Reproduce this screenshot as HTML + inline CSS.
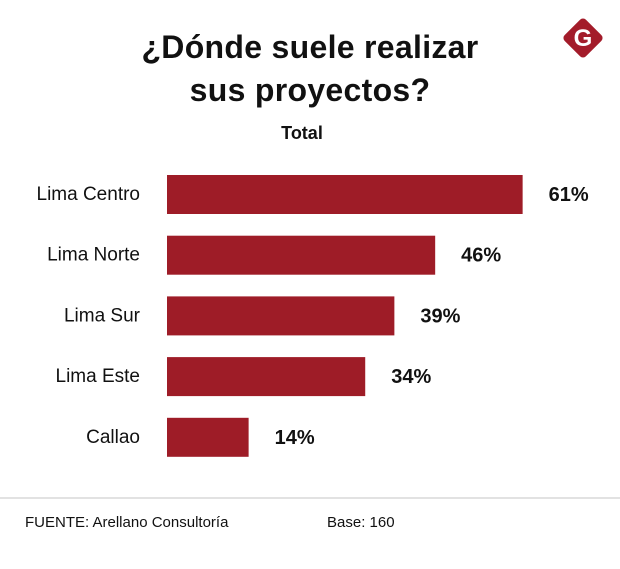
<!DOCTYPE html>
<html><head><meta charset="utf-8"><style>
body{margin:0;width:620px;height:569px;background:#fff;font-family:"Liberation Sans",sans-serif;overflow:hidden;position:relative}
.t{position:absolute;white-space:nowrap}
</style></head><body>
<div class="t" style="left:0;width:620px;top:26px;text-align:center;font-size:32px;font-weight:bold;line-height:43px;color:#111;letter-spacing:0.3px">¿Dónde suele realizar<br>sus proyectos?</div>
<div class="t" style="left:0;width:604px;top:123px;text-align:center;font-size:18px;font-weight:bold;color:#111">Total</div>
<svg style="position:absolute;left:558px;top:13px" width="50" height="50" viewBox="0 0 50 50">
<rect x="10" y="10" width="30" height="30" rx="4" transform="rotate(45 25 25)" fill="#a31c2a"/>
<text x="25" y="33" text-anchor="middle" font-family="Liberation Sans" font-weight="bold" font-size="24" fill="#fff">G</text></svg>
<svg id="chart" style="position:absolute;left:0;top:0" width="620" height="480"></svg>
<div style="position:absolute;left:0;top:497px;width:620px;height:2px;background:#e2e2e2"></div>
<div class="t" style="left:25px;top:514px;font-size:15px;color:#111">FUENTE: Arellano Consultoría</div>
<div class="t" style="left:327px;top:514px;font-size:15px;color:#111">Base: 160</div>
<script>
const categories=["Lima Centro","Lima Norte","Lima Sur","Lima Este","Callao"];
const values=[61,46,39,34,14];
const labels=["61%","46%","39%","34%","14%"];
const svg=document.getElementById('chart');
const NS='http://www.w3.org/2000/svg';
const x0=167,scale=5.83;
function xs(v){return v*scale;}
function yb(i){return 175+i*60.7;}
categories.forEach((c,i)=>{
 const r=document.createElementNS(NS,'rect');
 r.setAttribute('x',x0);r.setAttribute('y',yb(i));r.setAttribute('width',xs(values[i]));r.setAttribute('height',39);r.setAttribute('fill','#9e1c27');
 
 
 svg.appendChild(r);
 const t=document.createElementNS(NS,'text');
 t.setAttribute('x',140);t.setAttribute('y',yb(i)+25);t.setAttribute('text-anchor','end');t.setAttribute('font-size','19');t.setAttribute('fill','#111');t.setAttribute('font-family','Liberation Sans');
 t.textContent=c;
 
 
 svg.appendChild(t);
 const v=document.createElementNS(NS,'text');
 v.setAttribute('x',x0+xs(values[i])+26);v.setAttribute('y',yb(i)+26);v.setAttribute('font-size','20');v.setAttribute('font-weight','bold');v.setAttribute('fill','#111');v.setAttribute('font-family','Liberation Sans');
 v.textContent=labels[i];
 
 
 svg.appendChild(v);
});
</script>
</body></html>
